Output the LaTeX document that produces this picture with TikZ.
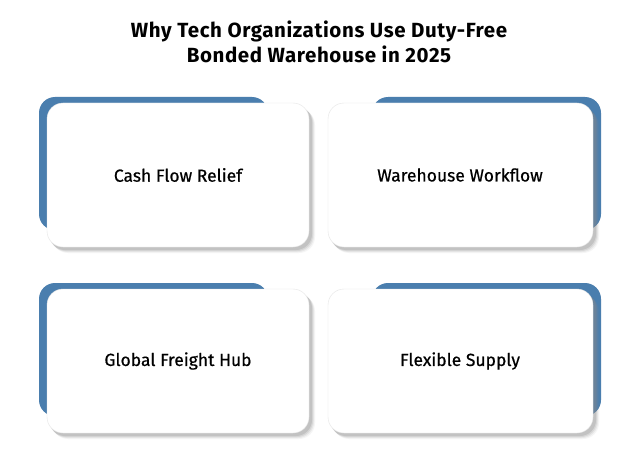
\documentclass[tikz,border=0pt]{standalone}
\usepackage{fontspec}
\setmainfont{Fira Sans}
\newfontfamily\cardfont{Fira Sans}[FakeBold=0.6]
\newfontfamily\titlefont{Fira Sans Bold}[LetterSpace=3]
\usetikzlibrary{positioning}
\definecolor{cardblue}{HTML}{4A7EAE}
\definecolor{shadowgrey}{HTML}{8A8A8A}
\tikzset{
  x=1pt,y=-1pt,
  backblue/.style={fill=cardblue,draw=none,rounded corners=16pt},
  cardshadow/.style={fill=shadowgrey,draw=none,rounded corners=16pt},
  card/.style={fill=white,draw=black!10,line width=0.4pt,rounded corners=16pt},
  cardtext/.style={font=\cardfont\fontsize{17.5}{20}\selectfont,text=black},
  titletext/.style={font=\titlefont\fontsize{20.5}{25}\selectfont,align=center,text=black}
}
\begin{document}
\begin{tikzpicture}
\useasboundingbox (0,0) rectangle (631,468);
\fill[white] (0,0) rectangle (631,468);
\node[titletext] (title) at (319,42) {Why Tech Organizations Use Duty-Free\\Bonded Warehouse in 2025};
% card 1
\fill[backblue] (39,97) rectangle (268,230);
\foreach \d/\o in {6/0.08,5/0.12,4/0.18,3/0.25} {\fill[cardshadow,opacity=\o] (47+\d-1,103+\d) rectangle (309+\d,247+\d);}
\draw[card] (47,103) rectangle (309,247);
\node[cardtext] (c1) at (178,175) {Cash Flow Relief};
% card 2
\fill[backblue] (372,97) rectangle (601,230);
\foreach \d/\o in {6/0.08,5/0.12,4/0.18,3/0.25} {\fill[cardshadow,opacity=\o] (328+\d-1,103+\d) rectangle (593+\d,247+\d);}
\draw[card] (328,103) rectangle (593,247);
\node[cardtext] (c2) at (460,175) {Warehouse Workflow};
% card 3
\fill[backblue] (39,283) rectangle (268,416);
\foreach \d/\o in {6/0.08,5/0.12,4/0.18,3/0.25} {\fill[cardshadow,opacity=\o] (47+\d-1,289+\d) rectangle (309+\d,433+\d);}
\draw[card] (47,289) rectangle (309,433);
\node[cardtext] (c3) at (178,361) {Global Freight Hub};
% card 4
\fill[backblue] (372,283) rectangle (601,416);
\foreach \d/\o in {6/0.08,5/0.12,4/0.18,3/0.25} {\fill[cardshadow,opacity=\o] (328+\d-1,289+\d) rectangle (593+\d,433+\d);}
\draw[card] (328,289) rectangle (593,433);
\node[cardtext] (c4) at (460,361) {Flexible Supply};
\end{tikzpicture}
\end{document}
